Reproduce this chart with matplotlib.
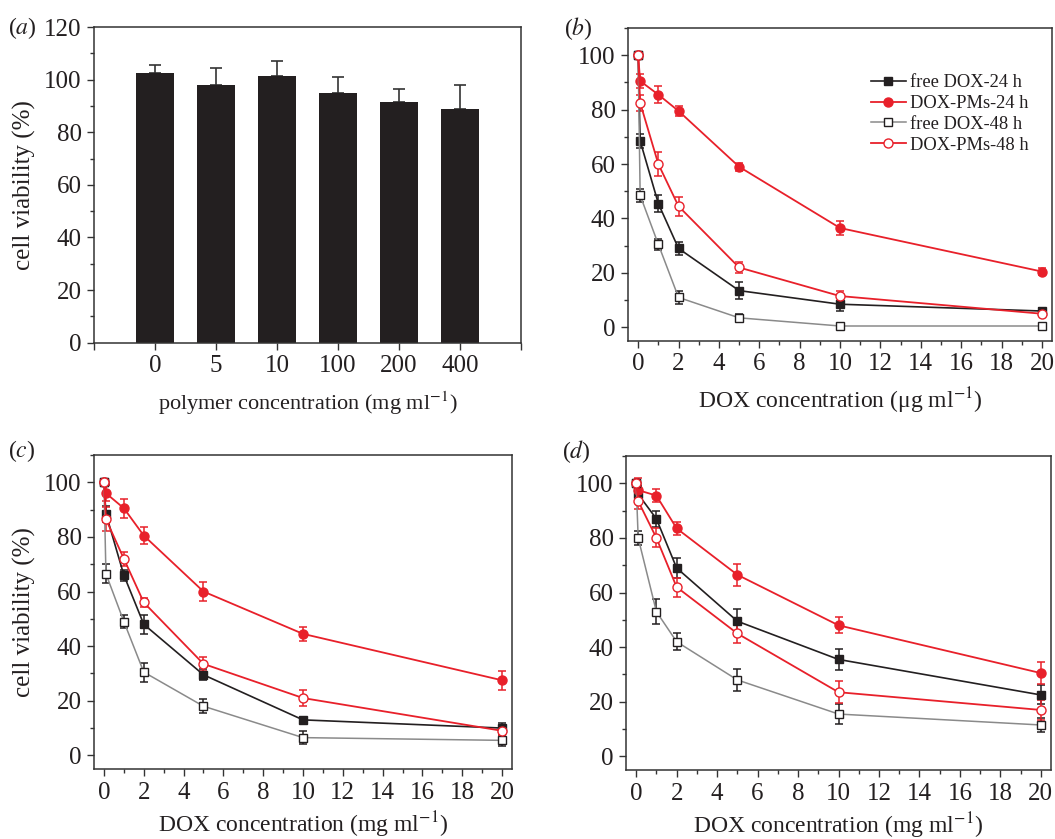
import numpy as np
import matplotlib.pyplot as plt
from matplotlib.ticker import MultipleLocator
from matplotlib.lines import Line2D

plt.rcParams['font.family'] = ['Liberation Serif', 'DejaVu Serif']
plt.rcParams['mathtext.fontset'] = 'stix'

# panel (a): polymer alone
poly_labels = ['0', '5', '10', '100', '200', '400']
poly_viab = [102.5, 98, 101.5, 95, 91.5, 89]
poly_err = [3, 6.5, 5.5, 6, 5, 9]

# DOX concentrations (same for b, c, d)
dox_conc = [0, 0.1, 1, 2, 5, 10, 20]

# panel (b)
b_free24 = [100, 68.5, 45.5, 29, 13.5, 8.5, 6]
b_free24_err = [0, 2.5, 3, 2.5, 3, 2.5, 1]
b_pm24 = [100, 90.5, 85.5, 79.5, 59, 36.5, 20.5]
b_pm24_err = [0, 2.5, 3, 2, 1.5, 2.5, 1.3]
b_free48 = [100, 48.5, 30.5, 11, 3.5, 0.5, 0.5]
b_free48_err = [0, 2.5, 2, 2.5, 1.5, 0.5, 0.5]
b_pm48 = [100, 82.5, 60, 44.5, 22, 11.5, 5]
b_pm48_err = [0, 3, 4.5, 3.5, 2, 2, 0.7]

# panel (c)
c_free24 = [100, 88.5, 66, 48, 29.5, 13, 10]
c_free24_err = [0, 3, 2, 3.5, 2, 1, 2]
c_pm24 = [100, 96, 90.5, 80.5, 60, 44.5, 27.5]
c_pm24_err = [0, 3, 3.5, 3, 3.5, 2.5, 3.5]
c_free48 = [100, 66.5, 49, 30.5, 18, 6.5, 5.5]
c_free48_err = [0, 3.5, 2.5, 3.5, 2.5, 2.5, 2]
c_pm48 = [100, 86.5, 72, 56, 33.5, 21, 9]
c_pm48_err = [0, 4.5, 2.5, 1.5, 2.5, 3, 1.5]

# panel (d)
d_free24 = [100, 96, 87, 69, 49.5, 35.5, 22.5]
d_free24_err = [0, 3, 3, 3.5, 4.5, 4, 3.5]
d_pm24 = [100, 97.5, 95.5, 83.5, 66.5, 48, 30.5]
d_pm24_err = [0, 4.5, 2.5, 2.5, 4, 3, 4]
d_free48 = [100, 80, 53, 42, 28, 15.5, 11.5]
d_free48_err = [0, 2.5, 4.5, 3, 4, 3.5, 2.5]
d_pm48 = [100, 93.5, 80, 62, 45, 23.5, 17]
d_pm48_err = [0, 3, 3.5, 3.5, 3.5, 4, 3.5]

series_names = ['free DOX-24 h', 'DOX-PMs-24 h', 'free DOX-48 h', 'DOX-PMs-48 h']

RED = '#e8202a'
BLK = '#231f20'
GRY = '#8a8a8a'
TXT = '#231f20'

fig = plt.figure(figsize=(10.55, 8.39), dpi=100)
ax_a = fig.add_axes([0.0891, 0.5915, 0.4047, 0.3763])
ax_b = fig.add_axes([0.5953, 0.5936, 0.4019, 0.3731])
ax_c = fig.add_axes([0.0891, 0.0834, 0.3962, 0.3743])
ax_d = fig.add_axes([0.5934, 0.0822, 0.4028, 0.3743])


def style_axis(ax):
    ax.tick_params(which='both', direction='out', top=False, right=False,
                   labelsize=18, color='#333333', labelcolor=TXT)
    ax.tick_params(which='major', length=5, width=1, pad=4)
    ax.tick_params(which='minor', length=3, width=1)
    for sp in ax.spines.values():
        sp.set_linewidth(1.1)
        sp.set_color('#333333')


# (a) bar chart
pos = np.arange(1, len(poly_viab) + 1)
ax_a.bar(pos, poly_viab, width=0.62, color=BLK, zorder=2)
ax_a.errorbar(pos, poly_viab, yerr=[np.zeros(len(poly_err)), poly_err],
              fmt='none', ecolor='#333333', elinewidth=1.2, capsize=4, capthick=1.2, zorder=1)
ax_a.set_xlim(0, 7)
ax_a.set_ylim(0, 120)
ax_a.set_xticks(range(0, 8))
ax_a.set_xticklabels([''] + poly_labels + [''])
ax_a.yaxis.set_major_locator(MultipleLocator(20))
ax_a.yaxis.set_minor_locator(MultipleLocator(10))
style_axis(ax_a)
ax_a.set_ylabel('cell viability (%)', fontsize=18, color=TXT, labelpad=6)
ax_a.set_xlabel('polymer concentration (mg ml$^{-1}$)', fontsize=16, color=TXT, labelpad=9)


def plot_curves(ax, f24, f24e, p24, p24e, f48, f48e, p48, p48e):
    kw = dict(capsize=3, capthick=1.1, elinewidth=1.1)
    ax.errorbar(dox_conc, f24, yerr=f24e, color=BLK, lw=1.2, marker='s', ms=5.5,
                mfc=BLK, mec=BLK, **kw)
    ax.errorbar(dox_conc, p24, yerr=p24e, color=RED, lw=1.3, marker='o', ms=6.5,
                mfc=RED, mec=RED, **kw)
    ax.errorbar(dox_conc, f48, yerr=f48e, color=GRY, lw=1.1, marker='s', ms=5.5,
                mfc='white', mec=BLK, ecolor=BLK, **kw)
    ax.errorbar(dox_conc, p48, yerr=p48e, color=RED, lw=1.3, marker='o', ms=6.5,
                mfc='white', mec=RED, **kw)
    ax.set_xlim(-0.5, 20.5)
    ax.set_ylim(-5, 110)
    ax.xaxis.set_major_locator(MultipleLocator(2))
    ax.xaxis.set_minor_locator(MultipleLocator(1))
    ax.yaxis.set_major_locator(MultipleLocator(20))
    ax.yaxis.set_minor_locator(MultipleLocator(10))
    style_axis(ax)


plot_curves(ax_b, b_free24, b_free24_err, b_pm24, b_pm24_err,
            b_free48, b_free48_err, b_pm48, b_pm48_err)
plot_curves(ax_c, c_free24, c_free24_err, c_pm24, c_pm24_err,
            c_free48, c_free48_err, c_pm48, c_pm48_err)
plot_curves(ax_d, d_free24, d_free24_err, d_pm24, d_pm24_err,
            d_free48, d_free48_err, d_pm48, d_pm48_err)

ax_b.set_xlabel('DOX concentration (μg ml$^{-1}$)', fontsize=17, color=TXT, labelpad=7)
ax_c.set_xlabel('DOX concentration (mg ml$^{-1}$)', fontsize=17, color=TXT, labelpad=4)
ax_d.set_xlabel('DOX concentration (mg ml$^{-1}$)', fontsize=17, color=TXT, labelpad=4)
ax_c.set_ylabel('cell viability (%)', fontsize=18, color=TXT, labelpad=6)

# legend handles without error bars
handles = [
    Line2D([], [], color=BLK, lw=1.2, marker='s', ms=5.5, mfc=BLK, mec=BLK),
    Line2D([], [], color=RED, lw=1.3, marker='o', ms=6.5, mfc=RED, mec=RED),
    Line2D([], [], color=GRY, lw=1.1, marker='s', ms=5.5, mfc='white', mec=BLK),
    Line2D([], [], color=RED, lw=1.3, marker='o', ms=6.5, mfc=RED if False else 'white', mec=RED),
]
ax_b.legend(handles, series_names, loc='upper left', bbox_to_anchor=(0.555, 0.875),
            frameon=False, fontsize=13.3, handlelength=1.9, handletextpad=0.25,
            labelspacing=0.2, borderaxespad=0, labelcolor=TXT)

# panel letters
for letter, x, y in [('a', 0.008, 0.966), ('b', 0.535, 0.966),
                     ('c', 0.008, 0.462), ('d', 0.533, 0.462)]:
    fig.text(x, y, '(' + r'$\it{' + letter + '}$' + ')', fontsize=17, va='center', color=TXT)

fig.savefig('out.png', dpi=100)
